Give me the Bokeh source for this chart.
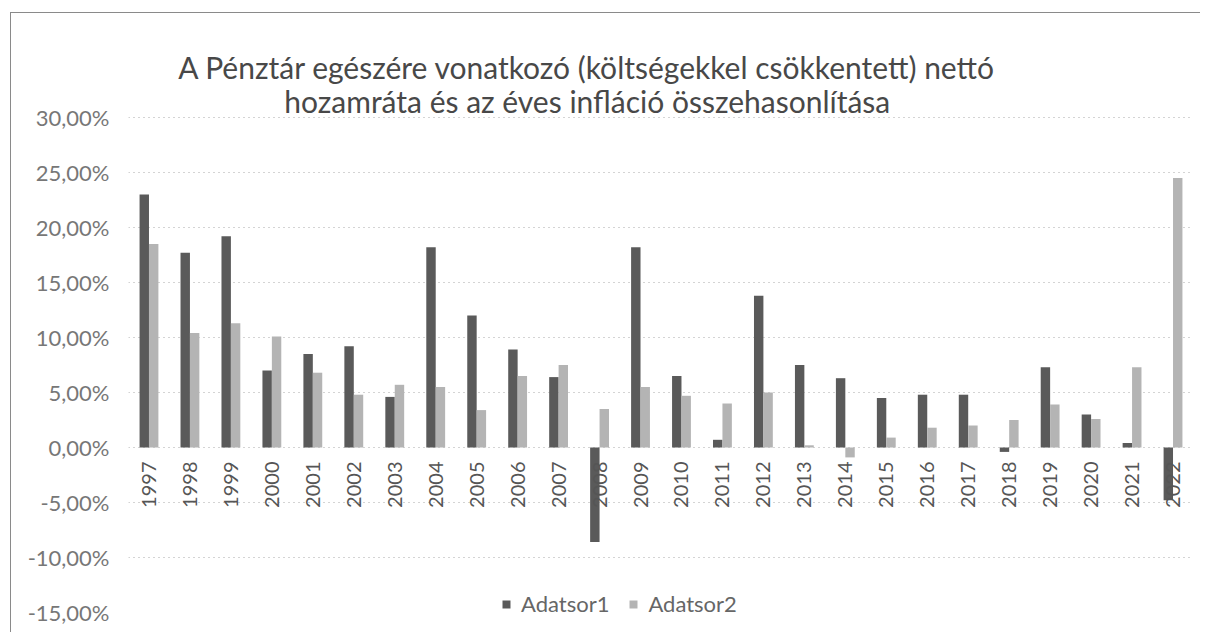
import math
from bokeh.plotting import figure
from bokeh.models import ColumnDataSource, FixedTicker, Label
from bokeh.transform import dodge
from bokeh.core.properties import value
from bokeh.embed import file_html
from bokeh.resources import INLINE

# ---- data (percent) ----
years = [str(y) for y in range(1997, 2023)]
adatsor1 = [23.0, 17.7, 19.2, 7.0, 8.5, 9.2, 4.6, 18.2, 12.0, 8.9, 6.4, -8.6, 18.2,
            6.5, 0.7, 13.8, 7.5, 6.3, 4.5, 4.8, 4.8, -0.4, 7.3, 3.0, 0.4, -4.8]
adatsor2 = [18.5, 10.4, 11.3, 10.1, 6.8, 4.8, 5.7, 5.5, 3.4, 6.5, 7.5, 3.5, 5.5,
            4.7, 4.0, 5.0, 0.2, -0.9, 0.9, 1.8, 2.0, 2.5, 3.9, 2.6, 7.3, 24.5]
y_ticks = [-15, -10, -5, 0, 5, 10, 15, 20, 25, 30]
y_tick_labels = ["-15,00%", "-10,00%", "-5,00%", "0,00%", "5,00%", "10,00%",
                 "15,00%", "20,00%", "25,00%", "30,00%"]
series_names = ["Adatsor1", "Adatsor2"]
title_lines = ["A Pénztár egészére vonatkozó (költségekkel csökkentett) nettó",
               "hozamráta és az éves infláció összehasonlítása"]

FONT = "Lato"
DARK = "#5a5a5a"
LIGHT = "#b4b4b4"

source = ColumnDataSource(dict(year=years, a1=adatsor1, a2=adatsor2,
                               zero=[0] * len(years)))

# the frame is extended above 30% and below -15% so that the title and the
# legend (drawn in data space) stay inside the drawing area
p = figure(x_range=years, y_range=(-16, 39), width=1190, height=620,
           output_backend="svg", toolbar_location=None,
           min_border_left=117, min_border_right=8,
           min_border_top=5, min_border_bottom=10)
p.margin = (12, 0, 0, 10)
p.styles = {"border-left": "1px solid #8a8a8a", "border-top": "1px solid #8a8a8a"}
p.outline_line_color = None
p.background_fill_color = "white"
p.border_fill_color = "white"

p.vbar(x=dodge("year", -0.115, range=p.x_range), top="a1", width=0.23,
       source=source, fill_color=DARK, line_color=None, legend_label=series_names[0])
p.vbar(x=dodge("year", 0.115, range=p.x_range), top="a2", width=0.23,
       source=source, fill_color=LIGHT, line_color=None, legend_label=series_names[1])

# category labels next to the zero line, rotated
p.text(x="year", y="zero", text="year", source=source, angle=math.pi / 2,
       text_align="right", text_baseline="middle", y_offset=14,
       text_font=value(FONT), text_font_size="20px", text_color="#555555")

# axes
p.xaxis.visible = False
p.xgrid.visible = False
p.yaxis.ticker = FixedTicker(ticks=y_ticks)
p.yaxis.major_label_overrides = {t: l for t, l in zip(y_ticks, y_tick_labels)}
p.yaxis.axis_line_color = None
p.yaxis.major_tick_line_color = None
p.yaxis.minor_tick_line_color = None
p.yaxis.major_tick_out = 0
p.yaxis.major_tick_in = 0
p.yaxis.major_label_standoff = 19
p.yaxis.major_label_text_font = FONT
p.yaxis.major_label_text_font_size = "22px"
p.yaxis.major_label_text_color = "#777777"
p.ygrid.ticker = FixedTicker(ticks=y_ticks[1:])
p.ygrid.grid_line_color = "#a8a8a8"
p.ygrid.grid_line_dash = "1 4"
p.ygrid.grid_line_width = 1

# title (data units: x in category slots, y in percent)
for line, ty in zip(title_lines, [34.55, 31.5]):
    p.add_layout(Label(x=11.2, y=ty, text=line, text_align="center",
                       text_baseline="alphabetic", text_font=FONT,
                       text_font_size="30px", text_color="#484848"))

# legend
lg = p.legend[0]
lg.location = (373, 6)
lg.orientation = "horizontal"
lg.background_fill_alpha = 0
lg.border_line_color = None
lg.padding = 0
lg.margin = 0
lg.spacing = 19
lg.label_standoff = 10
lg.glyph_width = 10
lg.glyph_height = 10
lg.label_height = 20
lg.label_text_font = FONT
lg.label_text_font_size = "22px"
lg.label_text_color = "#666666"

open("out.html", "w").write(file_html(p, INLINE))
